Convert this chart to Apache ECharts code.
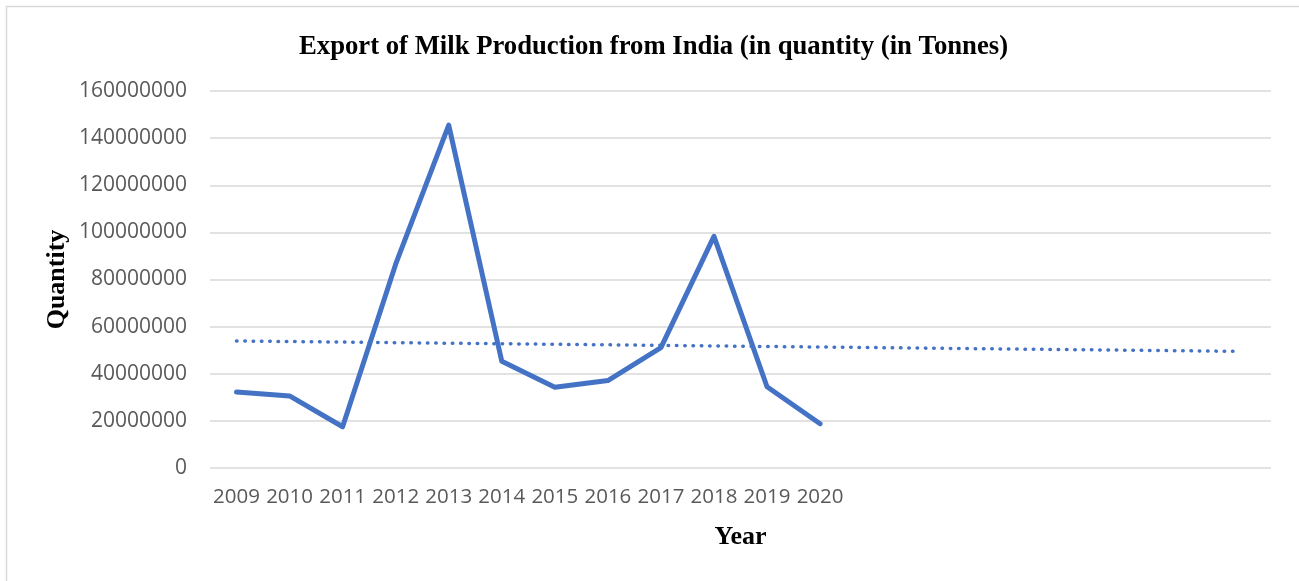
<!DOCTYPE html>
<html>
<head>
<meta charset="utf-8">
<script src="https://cdn.jsdelivr.net/npm/echarts@6/dist/echarts.min.js"></script>
<style>
  html, body { margin: 0; padding: 0; background: #fff; }
  #chart { width: 1299px; height: 581px; }
</style>
</head>
<body>
<div id="chart"></div>
<script>
// years shown on the axis, plus empty slots Excel left for the trendline forecast
const years = ["2009", "2010", "2011", "2012", "2013", "2014", "2015", "2016", "2017", "2018", "2019", "2020"];
const emptySlots = ["", "", "", "", "", "", "", ""];
// export quantity (tonnes)
const quantity = [32300000, 30600000, 17500000, 86500000, 145500000, 45300000, 34300000, 37100000, 51100000, 98300000, 34500000, 18800000];
// linear trendline: start and end points [category position, value]
const trendStart = [0, 53900000];
const trendEnd = [18.9, 49500000];
const yTicks = { min: 0, max: 160000000, step: 20000000 };

const categories = years.concat(emptySlots);
const blue = "#4472C4";
const grey = "#595959";

const chart = echarts.init(document.getElementById("chart"));
chart.setOption({
  animation: false,
  title: {
    text: "Export of Milk Production from India (in quantity (in Tonnes)",
    left: 294,
    top: 29,
    textStyle: { fontFamily: "Liberation Serif", fontWeight: "bold", fontSize: 26.7, color: "#000" }
  },
  graphic: [{
    type: "rect",
    shape: { x: 6.5, y: 6.5, width: 1400, height: 700 },
    style: { fill: "none", stroke: "#d9d9d9", lineWidth: 1.5 },
    silent: true
  }],
  grid: { left: 210, right: 28, top: 91, bottom: 113 },
  xAxis: [{
    type: "category",
    data: categories,
    boundaryGap: true,
    axisLine: { show: false },
    axisTick: { show: false },
    axisLabel: { interval: 0, margin: 19, color: grey, fontFamily: "Open Sans", fontSize: 20.5 },
    name: "Year",
    nameLocation: "middle",
    nameGap: 56,
    nameMoveOverlap: false,
    nameTextStyle: { fontFamily: "Liberation Serif", fontWeight: "bold", fontSize: 26, color: "#000" }
  }, {
    // hidden value axis aligned with the category bands, used for the trendline
    type: "value",
    show: false,
    min: -0.5,
    max: categories.length - 0.5
  }],
  yAxis: {
    type: "value",
    min: yTicks.min,
    max: yTicks.max,
    interval: yTicks.step,
    axisLine: { show: false },
    axisTick: { show: false },
    splitLine: { lineStyle: { color: "#d9d9d9", width: 1.5 } },
    axisLabel: {
      margin: 23,
      color: grey,
      fontFamily: "Open Sans",
      fontSize: 21,
      formatter: v => String(v)
    },
    name: "Quantity",
    nameLocation: "middle",
    nameGap: 140,
    nameMoveOverlap: false,
    nameTextStyle: { fontFamily: "Liberation Serif", fontWeight: "bold", fontSize: 26, color: "#000" }
  },
  series: [
    {
      name: "Quantity",
      type: "line",
      data: quantity,
      symbol: "none",
      lineStyle: { color: blue, width: 5, cap: "round", join: "round" }
    },
    {
      name: "Trend",
      type: "line",
      xAxisIndex: 1,
      data: [trendStart, trendEnd],
      symbol: "none",
      lineStyle: { color: blue, width: 3.5, type: [0.5, 7.8], cap: "round" }
    }
  ]
});
</script>
</body>
</html>
